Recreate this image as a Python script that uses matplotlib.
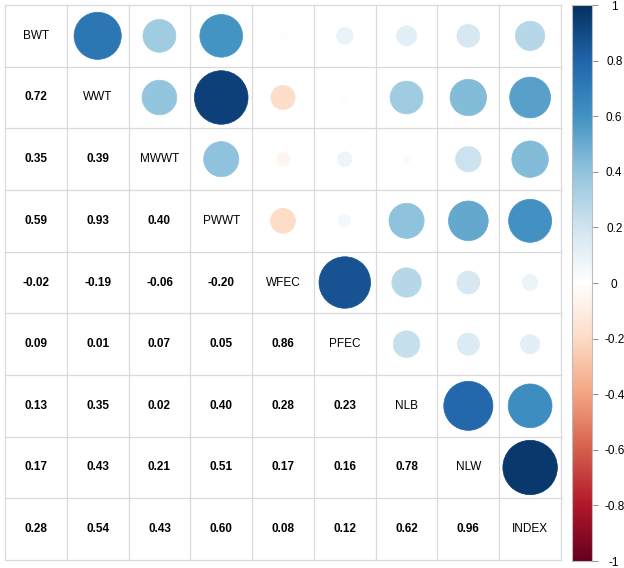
import numpy as np
import matplotlib
matplotlib.use("Agg")
from matplotlib import pyplot as plt
from matplotlib.colors import LinearSegmentedColormap
from matplotlib.patches import Circle

plt.rcParams['font.family'] = ['Liberation Sans', 'DejaVu Sans']

names = ["BWT", "WWT", "MWWT", "PWWT", "WFEC", "PFEC", "NLB", "NLW", "INDEX"]

# lower triangle, row by row (row i has i values)
lower = [
    [],
    [0.72],
    [0.35, 0.39],
    [0.59, 0.93, 0.40],
    [-0.02, -0.19, -0.06, -0.20],
    [0.09, 0.01, 0.07, 0.05, 0.86],
    [0.13, 0.35, 0.02, 0.40, 0.28, 0.23],
    [0.17, 0.43, 0.21, 0.51, 0.17, 0.16, 0.78],
    [0.28, 0.54, 0.43, 0.60, 0.08, 0.12, 0.62, 0.96],
]

cbar_ticks = [-1, -0.8, -0.6, -0.4, -0.2, 0, 0.2, 0.4, 0.6, 0.8, 1]
cbar_labels = ["-1", "-0.8", "-0.6", "-0.4", "-0.2", "0", "0.2", "0.4", "0.6", "0.8", "1"]

n = len(names)
corr = np.eye(n)
for i, row in enumerate(lower):
    for j, v in enumerate(row):
        corr[i, j] = v
        corr[j, i] = v

cols = ["#67001F", "#B2182B", "#D6604D", "#F4A582", "#FDDBC7", "#FFFFFF",
        "#D1E5F0", "#92C5DE", "#4393C3", "#2166AC", "#053061"]
cmap = LinearSegmentedColormap.from_list("rdbu2", cols, N=200)

W, H = 624, 568
fig = plt.figure(figsize=(W / 100, H / 100), dpi=100)
ax = fig.add_axes([5 / W, (H - 560) / H, 556 / W, 555 / H])
ax.set_xlim(0, n)
ax.set_ylim(n, 0)
ax.axis("off")

grid_col = "#D9D9D9"
for k in range(n + 1):
    ax.plot([k, k], [0, n], color=grid_col, lw=0.9, zorder=1, clip_on=False)
    ax.plot([0, n], [k, k], color=grid_col, lw=0.9, zorder=1, clip_on=False)

for i in range(n):
    for j in range(n):
        v = corr[i, j]
        if i == j:
            ax.text(j + 0.5, i + 0.5, names[i], ha="center", va="center", fontsize=8.5)
        elif i > j:
            ax.text(j + 0.5, i + 0.5, "%.2f" % v, ha="center", va="center",
                    fontsize=8.5, fontweight="bold")
        else:
            c = cmap((v + 1) / 2)
            r = 0.45 * np.sqrt(abs(v))
            ax.add_patch(Circle((j + 0.5, i + 0.5), r, facecolor=c, edgecolor=c,
                                lw=0.5, zorder=2))

# colorbar
cax = fig.add_axes([572 / W, (H - 561) / H, 20 / W, 556 / H])
grad = np.linspace(-1, 1, 200).reshape(-1, 1)
cax.imshow(grad, cmap=cmap, aspect="auto", origin="lower", extent=[0, 1, -1, 1], vmin=-1, vmax=1)
cax.set_xlim(0, 1)
cax.set_ylim(-1, 1)
cax.set_xticks([])
cax.yaxis.tick_right()
cax.set_yticks(cbar_ticks)
cax.set_yticklabels(cbar_labels, fontsize=8.5, ha="center")
cax.tick_params(axis="y", length=4, width=0.8, color="#999999", pad=12)
for s in cax.spines.values():
    s.set_color("#BBBBBB")
    s.set_linewidth(0.8)

fig.savefig("out.png", dpi=100)
